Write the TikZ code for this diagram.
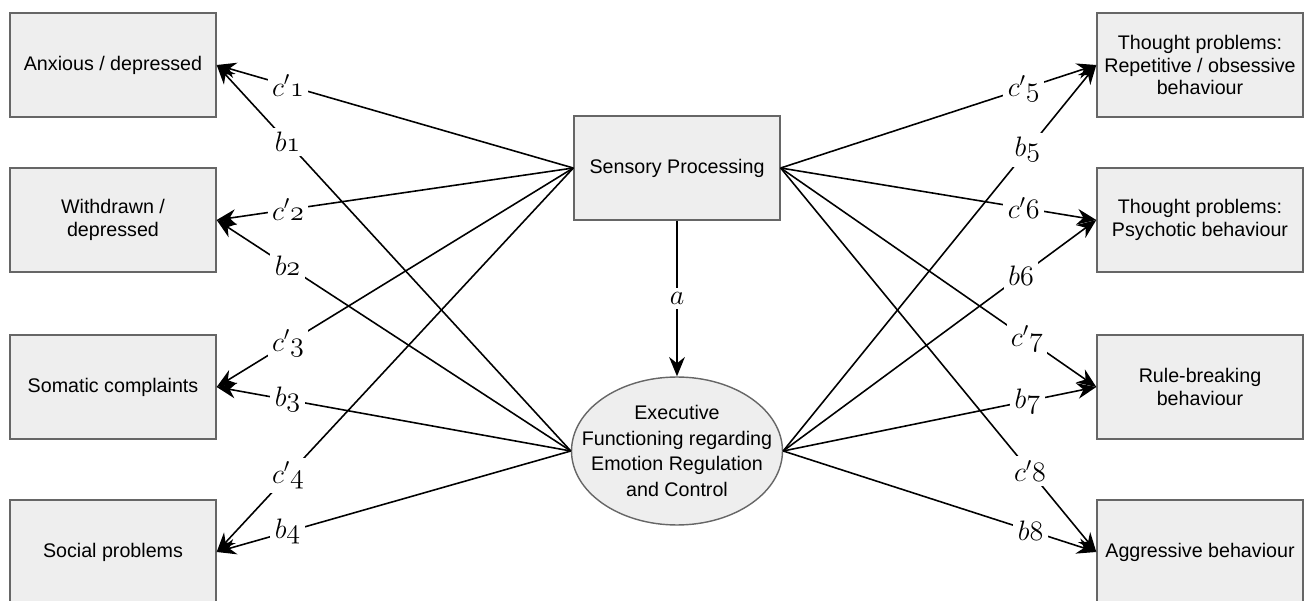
\RequirePackage{fix-cm}
\documentclass[tikz,border=0pt]{standalone}
\usepackage{fontspec}
\setmainfont{Liberation Sans}
\usetikzlibrary{arrows.meta, shapes.geometric}

\definecolor{boxfill}{HTML}{EEEEEE}
\definecolor{boxline}{HTML}{666666}

\newcommand{\plab}[2]{$#1\mathnormal{#2}$}

\tikzset{
  var/.style={draw=boxline, fill=boxfill, line width=0.8pt, minimum width=4.12cm,
    minimum height=2.08cm, align=center, inner sep=2pt,
    font=\fontsize{11.2}{13}\selectfont},
  path/.style={line width=0.9pt, -{Stealth[length=11pt, width=9pt]}},
  coef/.style={fill=white, inner sep=2.5pt, pos=0.8, font=\fontsize{16}{18}\selectfont},
}

\begin{document}
\begin{tikzpicture}[x=0.02cm, y=-0.02cm]
  \useasboundingbox (0,0) rectangle (1306,601);
  % outcomes on the left
  \node[var] (anx) at (113,65) {Anxious / depressed};
  \node[var] (wdr) at (113,220) {Withdrawn /\\depressed};
  \node[var] (som) at (113,387) {Somatic complaints};
  \node[var] (soc) at (113,552) {Social problems};
  % outcomes on the right
  \node[var] (rep) at (1200,65) {Thought problems:\\Repetitive / obsessive\\behaviour};
  \node[var] (psy) at (1200,220) {Thought problems:\\Psychotic behaviour};
  \node[var] (rule) at (1200,387) {Rule-breaking\\behaviour};
  \node[var] (agg) at (1200,552) {Aggressive behaviour};
  % predictor and mediator
  \node[var] (sens) at (677,168) {Sensory Processing};
  \node[ellipse, draw=boxline, fill=boxfill, line width=0.8pt, minimum width=4.22cm,
    minimum height=2.96cm] (exec) at (677,451) {};
  \node[align=center, font=\fontsize{11.2}{14.5}\selectfont] (exectext) at (exec)
    {Executive\\Functioning regarding\\Emotion Regulation\\and Control};

  \draw[path] (sens) -- node[coef, pos=0.5] {$a$} (exec);

  \draw[path] (sens.west) -- node[coef] {\plab{c'}{1}} (anx.east);
  \draw[path] (sens.west) -- node[coef] {\plab{c'}{2}} (wdr.east);
  \draw[path] (sens.west) -- node[coef] {\plab{c'}{3}} (som.east);
  \draw[path] (sens.west) -- node[coef] {\plab{c'}{4}} (soc.east);
  \draw[path] (exec.west) -- node[coef] {\plab{b}{1}} (anx.east);
  \draw[path] (exec.west) -- node[coef] {\plab{b}{2}} (wdr.east);
  \draw[path] (exec.west) -- node[coef] {\plab{b}{3}} (som.east);
  \draw[path] (exec.west) -- node[coef] {\plab{b}{4}} (soc.east);

  \draw[path] (sens.east) -- node[coef, pos=0.77] {\plab{c'}{5}} (rep.west);
  \draw[path] (sens.east) -- node[coef, pos=0.77] {\plab{c'}{6}} (psy.west);
  \draw[path] (sens.east) -- node[coef, pos=0.78] {\plab{c'}{7}} (rule.west);
  \draw[path] (sens.east) -- node[coef, pos=0.79] {\plab{c'}{8}} (agg.west);
  \draw[path] (exec.east) -- node[coef, pos=0.78] {\plab{b}{5}} (rep.west);
  \draw[path] (exec.east) -- node[coef, pos=0.76] {\plab{b}{6}} (psy.west);
  \draw[path] (exec.east) -- node[coef, pos=0.78] {\plab{b}{7}} (rule.west);
  \draw[path] (exec.east) -- node[coef, pos=0.79] {\plab{b}{8}} (agg.west);
\end{tikzpicture}
\end{document}
